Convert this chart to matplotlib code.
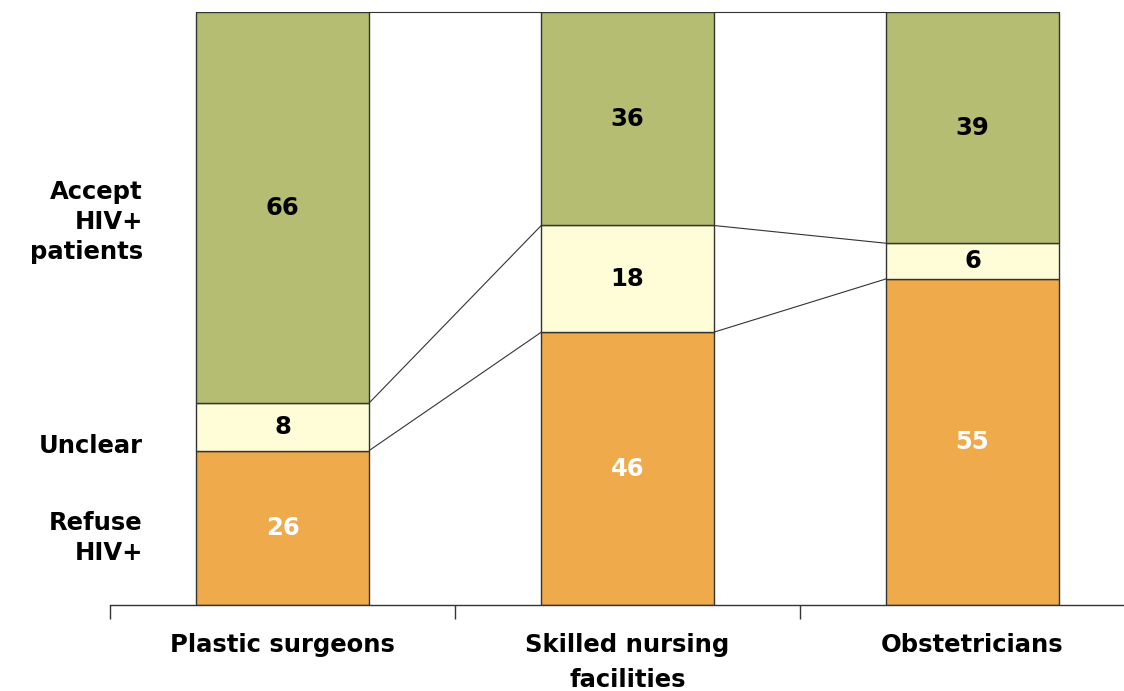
import matplotlib
matplotlib.use("Agg")
import matplotlib.pyplot as plt
import numpy as np

categories = ["Plastic surgeons", "Skilled nursing\nfacilities", "Obstetricians"]
refuse = [26, 46, 55]
unclear = [8, 18, 6]
accept = [66, 36, 39]

series = [refuse, unclear, accept]
colors = ["#EFAA4C", "#FFFDD8", "#B5BD72"]
label_colors = ["white", "black", "black"]

plt.rcParams['font.family'] = ['DejaVu Sans']
FS = 17.5

fig = plt.figure(figsize=(11.24, 6.91), dpi=100)
ax = fig.add_axes([110/1124, 86/691, 1035/1124, 593/691])

x = np.arange(len(categories))
width = 0.5
bottom = np.zeros(len(categories))
for vals, col, lc in zip(series, colors, label_colors):
    vals = np.array(vals, dtype=float)
    ax.bar(x, vals, width, bottom=bottom, color=col, edgecolor="#333333", linewidth=1.0, zorder=2)
    for xi, v, b in zip(x, vals, bottom):
        ax.text(xi, b + v / 2, f"{int(v)}", ha="center", va="center",
                fontsize=FS, fontweight="bold", color=lc, zorder=3)
    bottom = bottom + vals
    # series lines connecting tops of segments
    for i in range(len(categories) - 1):
        ax.plot([x[i] + width / 2, x[i + 1] - width / 2], [bottom[i], bottom[i + 1]],
                color="#333333", linewidth=0.8, zorder=1, clip_on=False)

ax.set_xlim(-0.5, len(categories) - 0.5)
ax.set_ylim(0, 100)
for s in ["top", "right", "left"]:
    ax.spines[s].set_visible(False)
ax.spines["bottom"].set_color("#333333")
ax.spines["bottom"].set_linewidth(1.0)
ax.set_yticks([])

ax.set_xticks(np.arange(-0.5, len(categories)), minor=False)
ax.set_xticklabels([])
ax.tick_params(axis="x", which="major", length=10, direction="out", color="#333333", width=1)
ax.set_xticks(x, minor=True)
ax.set_xticklabels(categories, minor=True, fontsize=FS, fontweight="bold", linespacing=1.6)
ax.tick_params(axis="x", which="minor", length=0, pad=20)

left_labels = [("Accept\nHIV+\npatients", 64.6), ("Unclear", 26.8), ("Refuse\nHIV+", 11.3)]
for txt, yv in left_labels:
    ax.text(-0.405, yv, txt, ha="right", va="center", fontsize=FS, fontweight="bold",
            linespacing=1.3, transform=ax.transData, clip_on=False)

fig.savefig("out.png", dpi=100)
